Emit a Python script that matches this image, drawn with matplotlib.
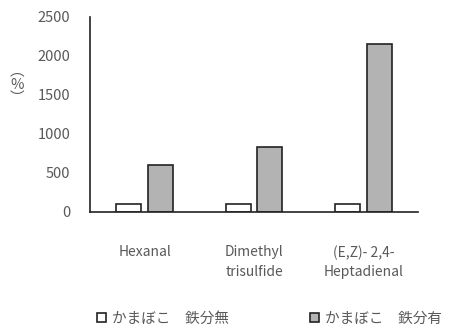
import matplotlib
matplotlib.use("Agg")
import matplotlib.pyplot as plt
import numpy as np
from matplotlib.patches import Patch

plt.rcParams['font.family'] = ['Noto Sans CJK JP', 'DejaVu Sans']

categories = ["Hexanal", "Dimethyl\ntrisulfide", "(E,Z)- 2,4-\nHeptadienal"]
series_names = ["かまぼこ　鉄分無", "かまぼこ　鉄分有"]
no_iron = [100, 100, 100]
with_iron = [600, 835, 2150]
yticks = [0, 500, 1000, 1500, 2000, 2500]

text_color = "#595959"
gray = "#b3b3b3"

fig = plt.figure(figsize=(4.54, 3.26), dpi=100)
ax = fig.add_axes([0.198, 0.35, 0.723, 0.598])

x = np.arange(len(categories))
w = 0.23
gap = 0.06
ax.bar(x - (w + gap) / 2, no_iron, w, color="white", edgecolor="#222222", linewidth=1.2, label=series_names[0])
ax.bar(x + (w + gap) / 2, with_iron, w, color=gray, edgecolor="#222222", linewidth=1.2, label=series_names[1])

ax.set_xlim(-0.5, len(categories) - 0.5)
ax.set_ylim(0, 2500)
ax.set_yticks(yticks)
ax.set_xticks(x)
ax.set_xticklabels(categories, fontsize=10, color=text_color, linespacing=1.5, va="top")
ax.tick_params(axis="x", length=0, pad=24)
ax.tick_params(axis="y", length=0, pad=14, labelsize=10.5, labelcolor=text_color)

for side in ["top", "right"]:
    ax.spines[side].set_visible(False)
for side in ["left", "bottom"]:
    ax.spines[side].set_color("#222222")
    ax.spines[side].set_linewidth(1.2)

# vertical axis unit, stacked top to bottom
fig.text(0.037, 0.74, "︵\n%\n︶", ha="center", va="center", fontsize=10.5,
         color=text_color, linespacing=0.95)

handles = [Patch(facecolor="white", edgecolor="#222222", linewidth=1.2),
           Patch(facecolor=gray, edgecolor="#222222", linewidth=1.2)]
fig.legend(handles, series_names, loc="lower left", bbox_to_anchor=(0.185, -0.04),
           ncol=2, frameon=False, fontsize=10.5, labelcolor=text_color,
           handlelength=0.6, handleheight=0.6, handletextpad=0.4, columnspacing=5.6)

fig.savefig("out.png", dpi=100)
